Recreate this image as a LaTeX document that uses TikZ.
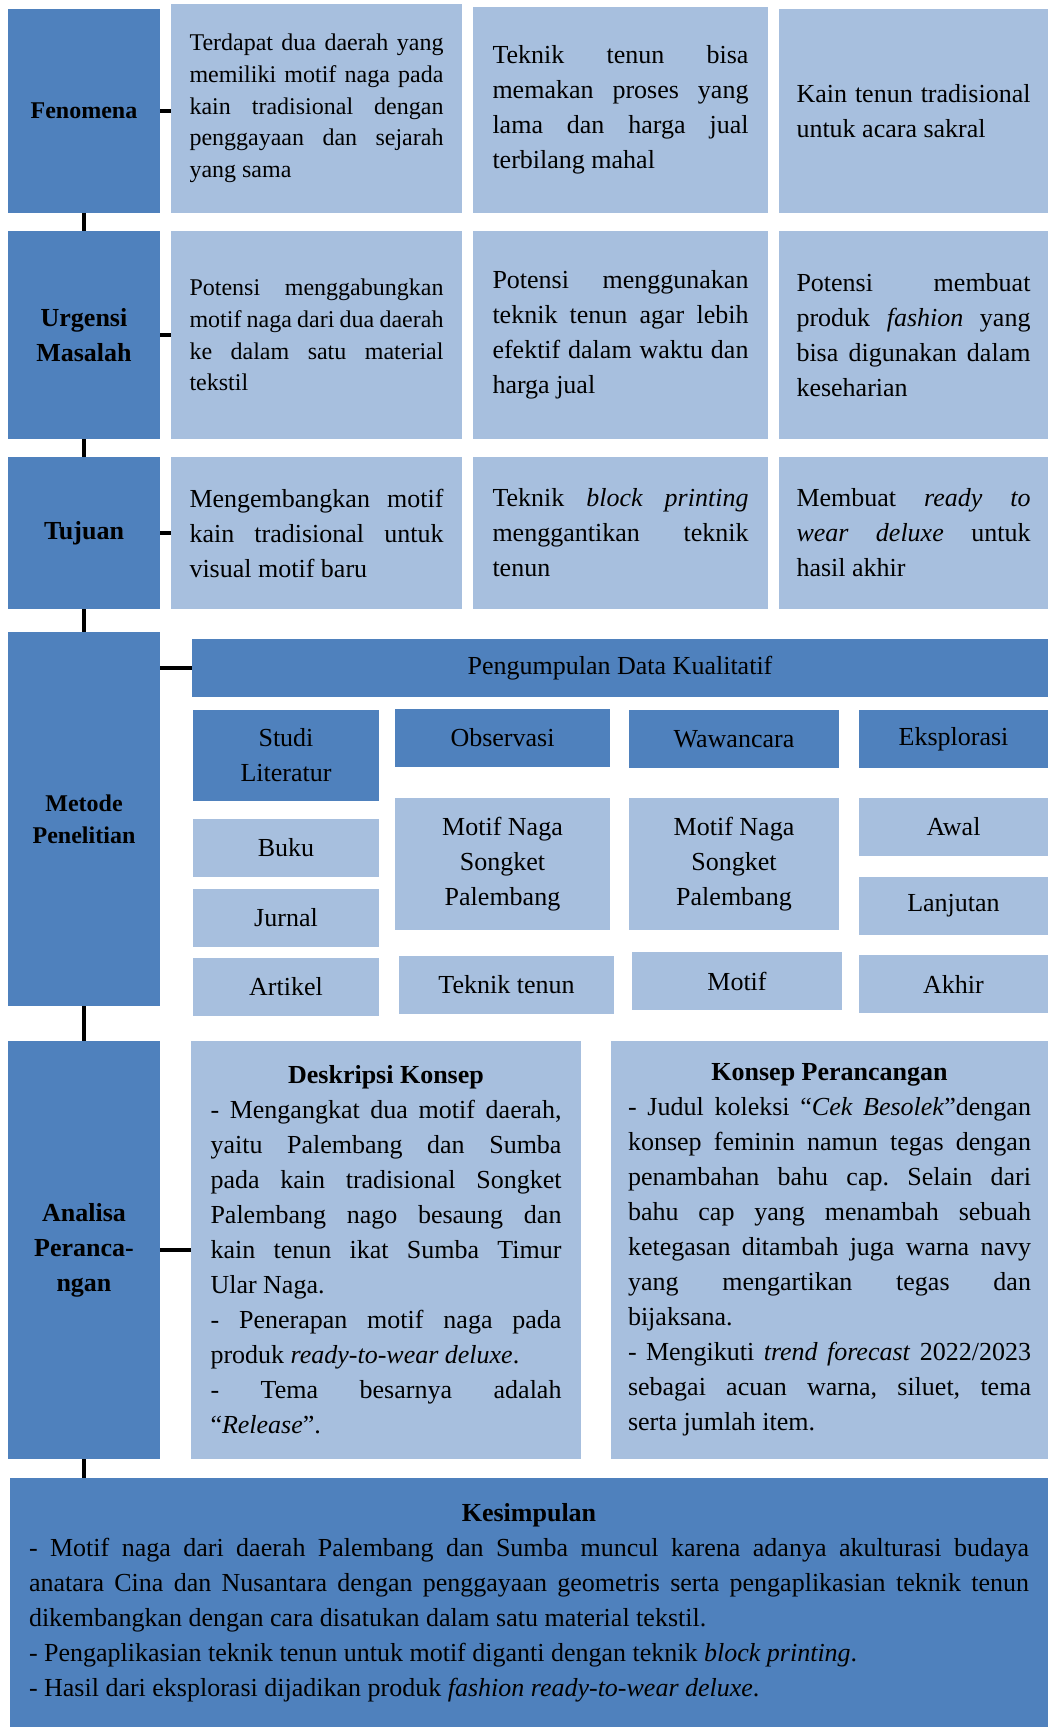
\documentclass[tikz,border=0pt]{standalone}
\usepackage{fontspec}
\setmainfont{Liberation Serif}
\usepackage{tikz}
\definecolor{blueA}{HTML}{4F81BD}
\definecolor{blueB}{HTML}{A7BFDE}
\tolerance=10000
\hyphenpenalty=10000
\exhyphenpenalty=10000
\frenchspacing
\setlength{\parindent}{0pt}
\tikzset{
  stagebox/.style={fill=blueA,inner sep=0pt,outer sep=0pt,minimum width=76pt,align=center,
    font=\bfseries\fontsize{13}{17.5}\selectfont},
  descbox/.style={fill=blueB,inner sep=0pt,outer sep=0pt,align=justify,
    font=\fontsize{13}{17.5}\selectfont},
  headbox/.style={fill=blueA,inner sep=0pt,outer sep=0pt,align=center,minimum height=29pt,
    font=\fontsize{13}{17.5}\selectfont},
  itembox/.style={fill=blueB,inner sep=0pt,outer sep=0pt,align=center,minimum height=29pt,
    font=\fontsize{13}{17.5}\selectfont},
  link/.style={line width=2.2pt,black}
}
\begin{document}
\begin{tikzpicture}[x=0.5pt,y=-0.5pt]
\useasboundingbox (0,0) rectangle (1048,1727);
\node[stagebox,font=\bfseries\fontsize{12}{15.85}\selectfont,minimum height=102pt](fen)at(84,111){Fenomena};
\node[stagebox,minimum height=104pt](urg)at(84,335){Urgensi\\Masalah};
\node[stagebox,minimum height=76pt](tuj)at(84,533){Tujuan};
\node[stagebox,font=\bfseries\fontsize{12}{15.85}\selectfont,minimum height=187pt](met)at(84,819){Metode\\Penelitian};
\node[stagebox,minimum height=209pt](ana)at(84,1250){Analisa\\Peranca-\\ngan};
\node[descbox,fill=blueA,minimum width=519pt,minimum height=124.5pt,text width=500pt](kes)at(529,1602.5){%
{\centering\textbf{Kesimpulan}\par}
- Motif naga dari daerah Palembang dan Sumba muncul karena adanya akulturasi budaya\linebreak
anatara Cina dan Nusantara dengan penggayaan geometris serta pengaplikasian teknik tenun\linebreak
dikembangkan dengan cara disatukan dalam satu material tekstil.\\
- Pengaplikasian teknik tenun untuk motif diganti dengan teknik \textit{block printing}.\\
- Hasil dari eksplorasi dijadikan produk \textit{fashion ready-to-wear deluxe}.};

\node[descbox,font=\fontsize{12}{15.85}\selectfont,minimum width=145.5pt,minimum height=104.5pt,text width=127pt](f1)at(316.5,108.5){Terdapat dua daerah yang\linebreak memiliki motif naga pada\linebreak kain tradisional dengan\linebreak penggayaan dan sejarah\linebreak yang sama};
\node[descbox,minimum width=147.5pt,minimum height=103pt,text width=128pt](f2)at(620.5,110){Teknik tenun bisa\linebreak memakan proses yang\linebreak lama dan harga jual\linebreak terbilang mahal};
\node[descbox,minimum width=134.5pt,minimum height=102pt,text width=117pt](f3)at(913.5,111){Kain tenun tradisional\linebreak untuk acara sakral};

\node[descbox,font=\fontsize{12}{15.85}\selectfont,minimum width=145.5pt,minimum height=104pt,text width=127pt](u1)at(316.5,335){Potensi menggabungkan\linebreak motif naga dari dua daerah\linebreak ke dalam satu material\linebreak tekstil};
\node[descbox,minimum width=147.5pt,minimum height=104pt,text width=128pt](u2)at(620.5,335){Potensi menggunakan\linebreak teknik tenun agar lebih\linebreak efektif dalam waktu dan\linebreak harga jual};
\node[descbox,minimum width=134.5pt,minimum height=104pt,text width=117pt](u3)at(913.5,335){Potensi membuat\linebreak produk \textit{fashion} yang\linebreak bisa digunakan dalam\linebreak keseharian};

\node[descbox,minimum width=145.5pt,minimum height=76pt,text width=127pt](t1)at(316.5,533){Mengembangkan motif\linebreak kain tradisional untuk\linebreak visual motif baru};
\node[descbox,minimum width=147.5pt,minimum height=76pt,text width=128pt](t2)at(620.5,533){Teknik \textit{block printing}\linebreak menggantikan teknik\linebreak tenun};
\node[descbox,minimum width=134.5pt,minimum height=76pt,text width=117pt](t3)at(913.5,533){Membuat \textit{ready to}\linebreak \textit{wear deluxe} untuk\linebreak hasil akhir};

\node[headbox,minimum width=428pt](pdk)at(620,668){Pengumpulan Data Kualitatif};
\node[headbox,minimum width=93pt,minimum height=45.5pt](sl)at(286,755.5){Studi\\Literatur};
\node[headbox,minimum width=107.5pt](obs)at(502.5,738){Observasi};
\node[headbox,minimum width=105pt](waw)at(734,739){Wawancara};
\node[headbox,minimum width=94.5pt](eks)at(953.5,739){Eksplorasi};
\node[itembox,minimum width=93pt](buku)at(286,848){Buku};
\node[itembox,minimum width=93pt](jur)at(286,918){Jurnal};
\node[itembox,minimum width=93pt](art)at(286,987){Artikel};
\node[itembox,minimum width=107.5pt,minimum height=66pt](mno)at(502.5,864){Motif Naga\\Songket\\Palembang};
\node[itembox,minimum width=107.5pt](tt)at(506.5,985){Teknik tenun};
\node[itembox,minimum width=105pt,minimum height=66pt](mnw)at(734,864){Motif Naga\\Songket\\Palembang};
\node[itembox,minimum width=105pt](mot)at(737,981){Motif};
\node[itembox,minimum width=94.5pt](awal)at(953.5,827){Awal};
\node[itembox,minimum width=94.5pt](lanj)at(953.5,906){Lanjutan};
\node[itembox,minimum width=94.5pt](akh)at(953.5,984){Akhir};

\node[descbox,minimum width=195pt,minimum height=209pt,text width=175.5pt](dk)at(386,1250){%
{\centering\textbf{Deskripsi Konsep}\par}
- Mengangkat dua motif daerah,\linebreak yaitu Palembang dan Sumba\linebreak pada kain tradisional Songket\linebreak Palembang nago besaung dan\linebreak kain tenun ikat Sumba Timur\linebreak Ular Naga.\\
- Penerapan motif naga pada\linebreak produk \textit{ready-to-wear deluxe}.\\
- Tema besarnya adalah\linebreak “\textit{Release}”.};
\node[descbox,minimum width=218.5pt,minimum height=209pt,text width=201.5pt](kp)at(829.5,1250){%
{\centering\textbf{Konsep Perancangan}\par}
- Judul koleksi “\textit{Cek Besolek}”dengan\linebreak konsep feminin namun tegas dengan\linebreak penambahan bahu cap. Selain dari\linebreak bahu cap yang menambah sebuah\linebreak ketegasan ditambah juga warna navy\linebreak yang mengartikan tegas dan\linebreak bijaksana.\\
- Mengikuti \textit{trend forecast} 2022/2023\linebreak sebagai acuan warna, siluet, tema\linebreak serta jumlah item.};

\draw[link](fen.south)--(urg.north);
\draw[link](urg.south)--(tuj.north);
\draw[link](tuj.south)--(met.north);
\draw[link](met.south)--(ana.north);
\draw[link](ana.south)--(ana.south|-kes.north);
\draw[link](fen.east)--(fen.east-|f1.west);
\draw[link](urg.east)--(urg.east-|u1.west);
\draw[link](tuj.east)--(tuj.east-|t1.west);
\draw[link](pdk.west-|met.east)--(pdk.west);
\draw[link](ana.east)--(ana.east-|dk.west);
\end{tikzpicture}
\end{document}
